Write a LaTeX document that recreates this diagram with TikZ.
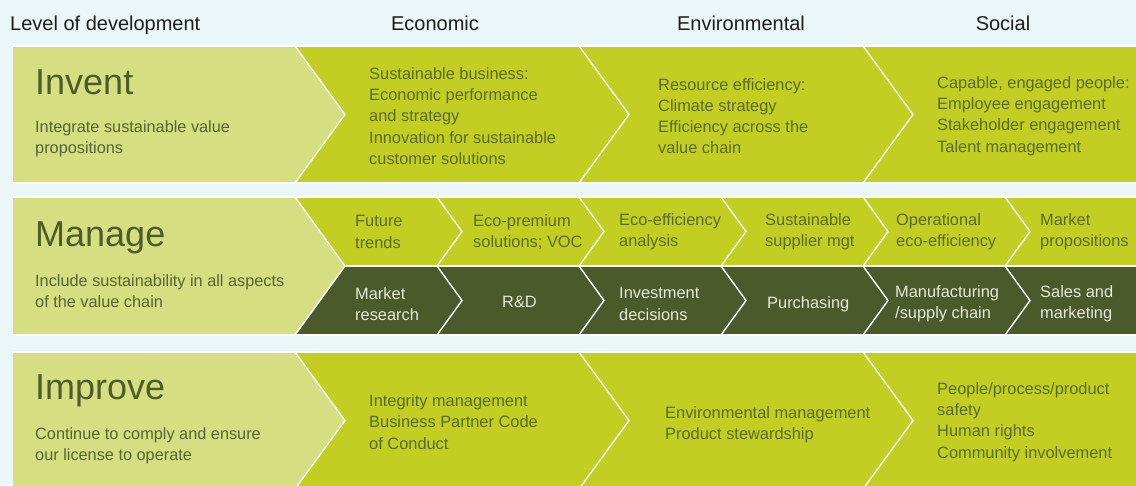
\documentclass[tikz,border=0pt]{standalone}
\usepackage{fontspec}
\setmainfont{Liberation Sans}
\usepackage{xcolor}
\usepackage{tikz}
\usetikzlibrary{positioning, calc}
\definecolor{devback}{RGB}{234, 246, 247}
\definecolor{devpale}{RGB}{214, 222, 130}
\definecolor{devlime}{RGB}{194, 206, 34}
\definecolor{devmoss}{RGB}{74, 90, 43}
\definecolor{devhead}{RGB}{30, 30, 30}
\definecolor{devbig}{RGB}{80, 92, 40}
\definecolor{devsub}{RGB}{88, 100, 50}
\definecolor{devtext}{RGB}{92, 106, 40}
\definecolor{devlight}{RGB}{230, 234, 216}

\tikzset{
  sep/.style={draw=white, line width=1.4pt, line join=miter},
  head/.style={font=\fontsize{20}{24}\selectfont, text=devhead, inner sep=0pt, anchor=base},
  level/.style={font=\fontsize{36}{40}\selectfont, text=devbig, inner sep=0pt, anchor=base west},
  levelsub/.style={font=\fontsize{16.3}{21}\selectfont, text=devsub, align=left, inner sep=0pt, anchor=west},
  item/.style={font=\fontsize{16.4}{21.2}\selectfont, text=devtext, align=left, inner sep=0pt, anchor=west},
  darkitem/.style={item, text=devlight}
}

\begin{document}
\begin{tikzpicture}[x=1pt, y=-1pt]
\useasboundingbox (0,0) rectangle (1136,485);
\fill[devback] (0,0) rectangle (1136,485);

% headers
\node[head, anchor=base west] (lvl) at (10,30) {Level of development};
\node[head] (eco) at (435,30) {Economic};
\node[head] (env) at (741,30) {Environmental};
\node[head] (soc) at (1003,30) {Social};

% row 1: invent
\fill[devlime] (295,46) rectangle (1150,183);
\fill[devpale] (13,46) -- (295,46) -- (345,114.5) -- (295,183) -- (13,183) -- cycle;
\draw[sep] (13,46) -- (1150,46) (13,183) -- (1150,183);
\foreach \b in {295, 579, 863}
  \draw[sep] (\b,46) -- (\b+50,114.5) -- (\b,183);

% row 2: manage
\fill[devlime] (295,197) rectangle (1150,266);
\fill[devmoss] (295,266) rectangle (1150,335);
\fill[devpale] (13,197) -- (295,197) -- (345,266) -- (295,335) -- (13,335) -- cycle;
\draw[sep] (13,197) -- (1150,197) (13,335) -- (1150,335) (345,266) -- (1150,266);
\draw[sep] (295,197) -- (345,266) -- (295,335);
\foreach \b in {437, 579, 721, 863, 1005} {
  \draw[sep] (\b,197) -- (\b+25,231.5) -- (\b,266);
  \draw[sep] (\b,266) -- (\b+25,300.5) -- (\b,335);
}

% row 3: improve
\fill[devlime] (295,352) rectangle (1150,489);
\fill[devpale] (13,352) -- (295,352) -- (345,420.5) -- (295,489) -- (13,489) -- cycle;
\draw[sep] (13,352) -- (1150,352);
\foreach \b in {295, 579, 863}
  \draw[sep] (\b,352) -- (\b+50,420.5) -- (\b,489);

% left panels
\node[level] (invent) at (35,94) {Invent};
\node[levelsub] (inventsub) at (35,139) {Integrate sustainable value\\propositions};
\node[level] (manage) at (35,246) {Manage};
\node[levelsub] (managesub) at (35,291) {Include sustainability in all aspects\\of the value chain};
\node[level] (improve) at (35,399) {Improve};
\node[levelsub] (improvesub) at (35,446) {Continue to comply and ensure\\our license to operate};

% invent cells
\node[item] (inv-eco) at (369,116) {Sustainable business:\\Economic performance\\and strategy\\Innovation for sustainable\\customer solutions};
\node[item] (inv-env) at (658,116) {Resource efficiency:\\Climate strategy\\Efficiency across the\\value chain};
\node[item] (inv-soc) at (937,116) {Capable, engaged people:\\Employee engagement\\Stakeholder engagement\\Talent management};

% manage cells
\node[item] (trends) at (355,232) {Future\\trends};
\node[item] (premium) at (473,232) {Eco-premium\\solutions; VOC};
\node[item] (ecoeff) at (619,232) {Eco-efficiency\\analysis};
\node[item] (supplier) at (765,232) {Sustainable\\supplier mgt};
\node[item] (opeco) at (896,232) {Operational\\eco-efficiency};
\node[item] (propos) at (1040,232) {Market\\propositions};
\node[darkitem] (research) at (355,304) {Market\\research};
\node[darkitem] (rnd) at (502,302) {R\&D};
\node[darkitem] (invest) at (619,304) {Investment\\decisions};
\node[darkitem] (purch) at (767,304) {Purchasing};
\node[darkitem] (manuf) at (895,304) {Manufacturing\\/supply chain};
\node[darkitem] (sales) at (1040,304) {Sales and\\marketing};

% improve cells
\node[item] (imp-eco) at (369,422) {Integrity management\\Business Partner Code\\of Conduct};
\node[item] (imp-env) at (665,425) {Environmental management\\Product stewardship};
\node[item] (imp-soc) at (937,422) {People/process/product\\safety\\Human rights\\Community involvement};
\end{tikzpicture}
\end{document}
